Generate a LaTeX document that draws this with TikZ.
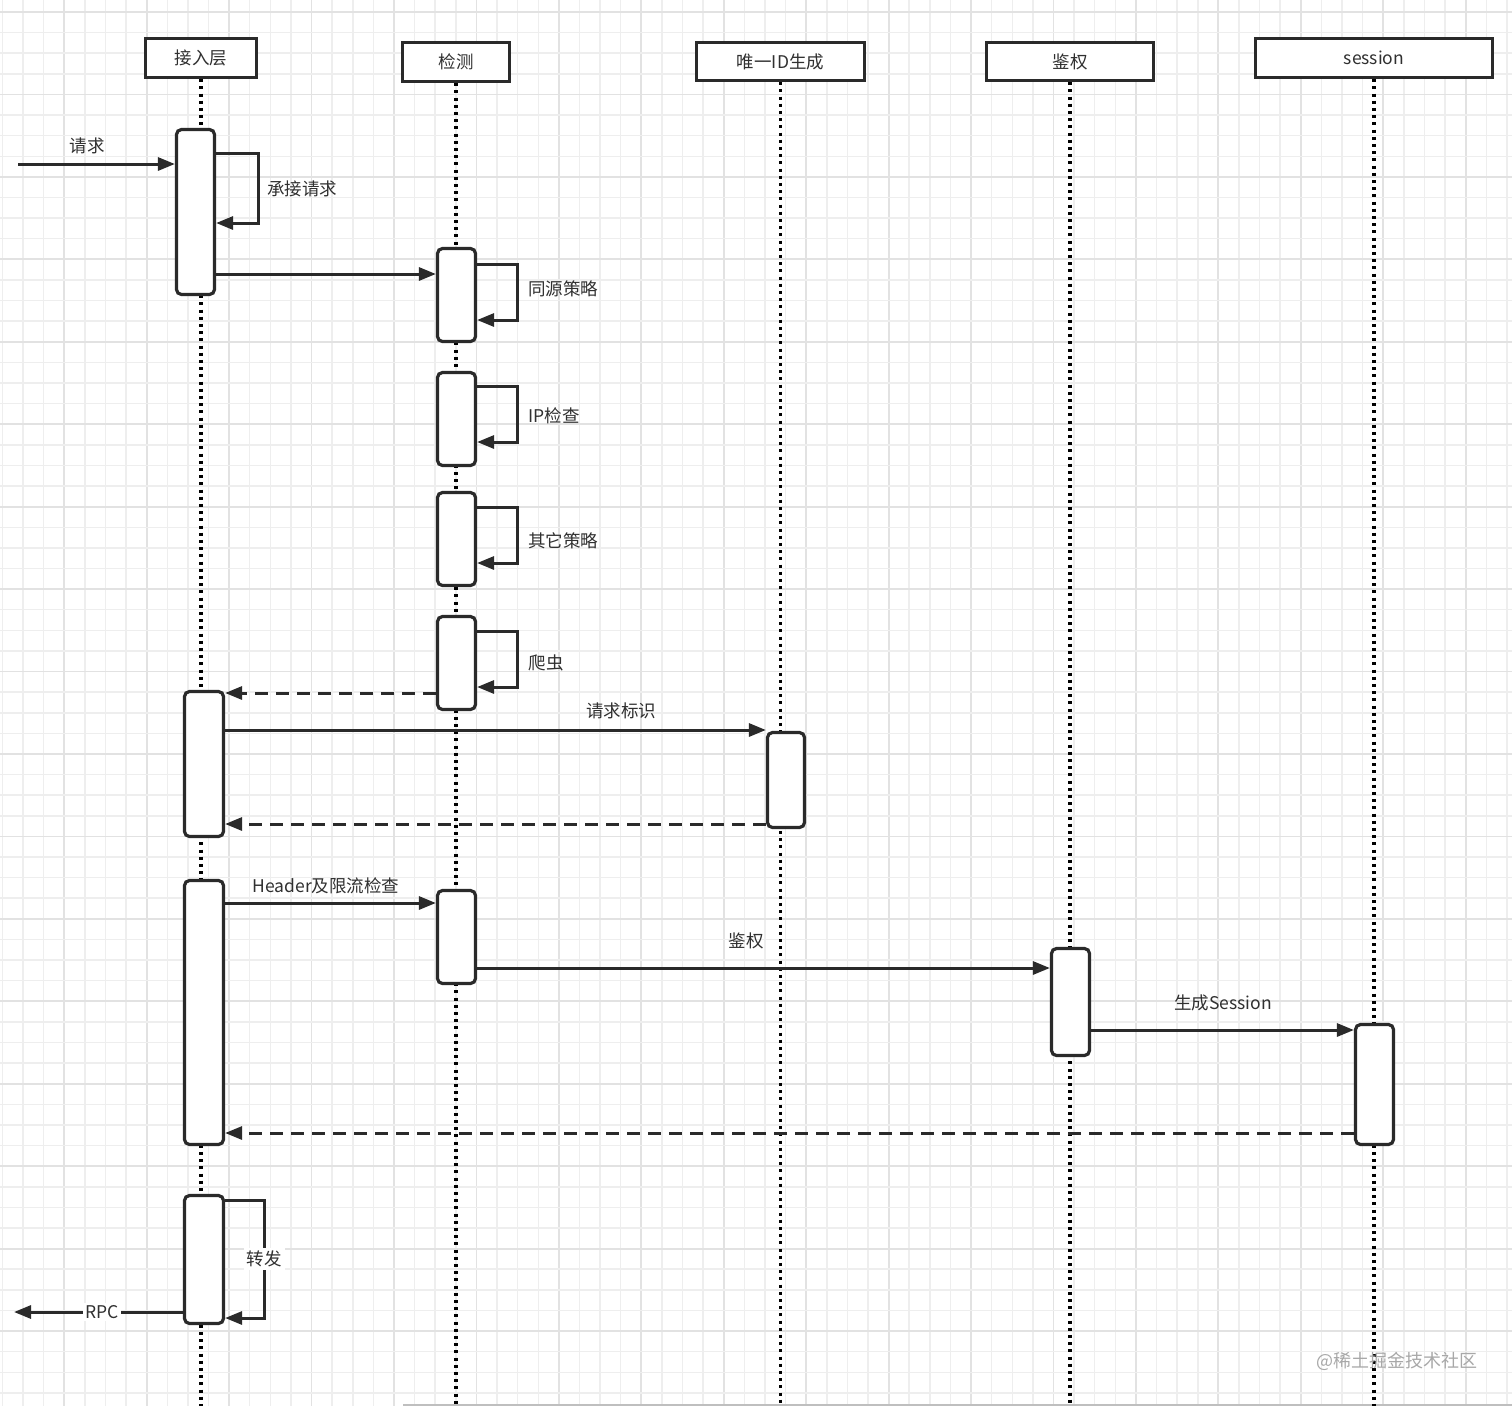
\documentclass[tikz,border=0pt]{standalone}
\usepackage{fontspec}
\setmainfont{Noto Sans CJK SC}
\usetikzlibrary{arrows.meta}
\definecolor{ink}{HTML}{2A2A2A}
\definecolor{txt}{HTML}{303030}
\definecolor{gmin}{HTML}{EEEEEE}
\definecolor{gmaj}{HTML}{E2E2E2}
\definecolor{wm}{HTML}{A8A8A8}
\tikzset{
  gridmin/.style={gmin, line width=1.5pt},
  gridmaj/.style={gmaj, line width=1.8pt},
  hdr/.style={draw=ink, line width=3.2pt, fill=white, text=txt, font=\fontsize{17.5}{20}\selectfont, inner sep=0pt},
  lifeline/.style={black, line width=3.2pt, dash pattern=on 3pt off 4.2pt},
  act/.style={draw=ink, line width=3.2pt, fill=white, rounded corners=5pt, inner sep=0pt},
  msg/.style={ink, line width=3pt, -{Triangle[length=17pt,width=13pt]}},
  ret/.style={msg, dash pattern=on 13pt off 8pt},
  lbl/.style={text=txt, font=\fontsize{17.5}{20}\selectfont, inner sep=1pt},
}
\begin{document}
\begin{tikzpicture}[x=1pt,y=-1pt]
\useasboundingbox (0,0) rectangle (1512,1406);
\fill[white] (0,0) rectangle (1512,1406);
% grid
\foreach \i in {-1,...,72}{
  \pgfmathtruncatemacro{\m}{mod(\i+4,4)}
  \ifnum\m=2 \def\gc{gridmaj}\else\def\gc{gridmin}\fi
  \draw[\gc] ({23+\i*20.61},0) -- ({23+\i*20.61},1406);
}
\foreach \j in {0,...,67}{
  \pgfmathtruncatemacro{\m}{mod(\j,4)}
  \ifnum\m=0 \def\gc{gridmaj}\else\def\gc{gridmin}\fi
  \draw[\gc] (0,{12+\j*20.61}) -- (1512,{12+\j*20.61});
}
\draw[gray!50, line width=2pt] (403,1405) -- (1512,1405);

% headers
\node[hdr, minimum width=111pt, minimum height=39pt] (h1) at (201,58) {接入层};
\node[hdr, minimum width=107pt, minimum height=39pt] (h2) at (456,62) {检测};
\node[hdr, minimum width=168pt, minimum height=38pt] (h3) at (780.5,61.5) {唯一ID生成};
\node[hdr, minimum width=167pt, minimum height=38pt] (h4) at (1070,61.5) {鉴权};
\node[hdr, minimum width=237pt, minimum height=39pt] (h5) at (1374,58) {session};

% lifeline ends
\coordinate (e1) at (201,1406);
\coordinate (e2) at (456,1406);
\coordinate (e3) at (780.5,1406);
\coordinate (e4) at (1070,1406);
\coordinate (e5) at (1374,1406);
\draw[lifeline] (h1) -- (e1);
\draw[lifeline] (h2) -- (e2);
\draw[lifeline] (h3) -- (e3);
\draw[lifeline] (h4) -- (e4);
\draw[lifeline] (h5) -- (e5);

% activations
\node[act, minimum width=38pt, minimum height=165pt] (a1) at (195.5,212) {};
\node[act, minimum width=38pt, minimum height=93pt] (b1) at (456.5,295) {};
\node[act, minimum width=38pt, minimum height=93pt] (b2) at (456.5,419) {};
\node[act, minimum width=38pt, minimum height=93pt] (b3) at (456.5,539) {};
\node[act, minimum width=38pt, minimum height=93pt] (b4) at (456.5,663) {};
\node[act, minimum width=39pt, minimum height=145pt] (a2) at (204,764) {};
\node[act, minimum width=37pt, minimum height=95pt] (c1) at (786,780) {};
\node[act, minimum width=39pt, minimum height=264pt] (a3) at (204,1012.5) {};
\node[act, minimum width=38pt, minimum height=93pt] (b5) at (456.5,937) {};
\node[act, minimum width=38pt, minimum height=107pt] (d1) at (1070.5,1002) {};
\node[act, minimum width=38pt, minimum height=120pt] (f1) at (1374.5,1084.5) {};
\node[act, minimum width=39pt, minimum height=128pt] (a4) at (204,1259.5) {};

% incoming request
\coordinate (src) at (18,164);
\draw[msg] (src) -- (a1.west |- src);
\node[lbl] (lq) at (87,146) {请求};

% self loop a1
\draw[msg] (a1.east |- 0,153) -- (258,153) -- (258,223) -- (a1.east |- 0,223);
\node[lbl] (l1) at (302,189) {承接请求};

% a1 -> b1
\draw[msg] (a1.east |- 0,274) -- (b1.west |- 0,274);

% detection loops
\draw[msg] (b1.east |- 0,264) -- (517,264) -- (517,320) -- (b1.east |- 0,320);
\node[lbl] (l2) at (563,289) {同源策略};
\draw[msg] (b2.east |- 0,386) -- (517,386) -- (517,442) -- (b2.east |- 0,442);
\node[lbl] (l3) at (554,416) {IP检查};
\draw[msg] (b3.east |- 0,507) -- (517,507) -- (517,563) -- (b3.east |- 0,563);
\node[lbl] (l4) at (563,541) {其它策略};
\draw[msg] (b4.east |- 0,631) -- (517,631) -- (517,687) -- (b4.east |- 0,687);
\node[lbl] (l5) at (546,663) {爬虫};

% return from detection
\draw[ret] (b4.west |- 0,693) -- (a2.east |- 0,693);

% unique id
\draw[msg] (a2.east |- 0,730) -- (c1.west |- 0,730);
\node[lbl] (l6) at (621,711) {请求标识};
\draw[ret] (c1.west |- 0,824) -- (a2.east |- 0,824);

% header check
\draw[msg] (a3.east |- 0,903) -- (b5.west |- 0,903);
\node[lbl] (l7) at (326,886) {Header及限流检查};

% auth
\draw[msg] (b5.east |- 0,968) -- (d1.west |- 0,968);
\node[lbl] (l8) at (746,941) {鉴权};

% session
\draw[msg] (d1.east |- 0,1030) -- (f1.west |- 0,1030);
\node[lbl] (l9) at (1223,1003) {生成Session};
\draw[ret] (f1.west |- 0,1133) -- (a3.east |- 0,1133);

% forward loop
\draw[msg] (a4.east |- 0,1200) -- (264,1200) -- node[lbl, fill=white, inner sep=3pt, pos=0.5] {转发} (264,1318) -- (a4.east |- 0,1318);

% RPC
\coordinate (rpc) at (14,1312);
\draw[msg] (a4.west |- rpc) -- node[lbl, fill=white, inner sep=2pt, pos=0.48] {RPC} (rpc);

% watermark
\node[text=wm, font=\fontsize{18}{20}\selectfont, inner sep=0pt] (wmk) at (1397,1361) {@稀土掘金技术社区};
\end{tikzpicture}
\end{document}
